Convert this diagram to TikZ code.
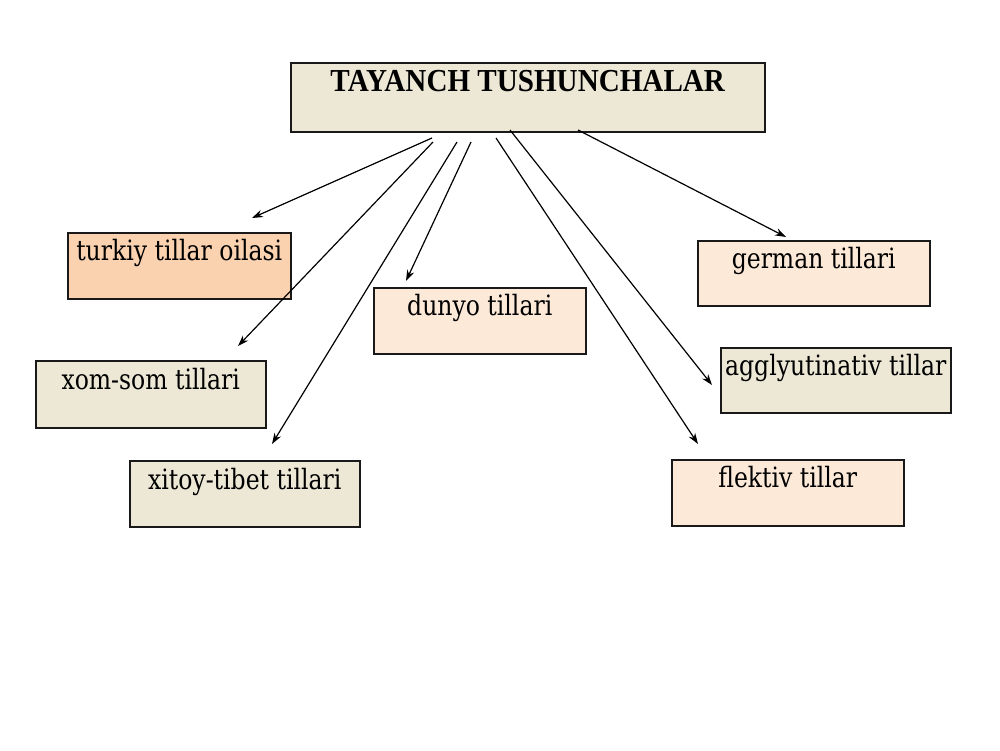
\documentclass[tikz,border=0pt]{standalone}
\usepackage{fontspec}
\setmainfont{DejaVu Serif}[FakeStretch=0.84]
\newfontfamily\titlefont{Liberation Serif}[FakeStretch=0.91]
\usetikzlibrary{arrows.meta}
\definecolor{beige}{RGB}{236,232,213}
\definecolor{peach}{RGB}{250,210,176}
\definecolor{lightpeach}{RGB}{253,233,216}
\begin{document}
\begin{tikzpicture}[x=1pt,y=-1pt,
  box/.style={draw=black!90, line width=1.5pt, inner sep=0pt, anchor=north west,
    minimum height=66pt, text height=28pt, text depth=38pt,
    font=\fontsize{28}{30}\selectfont},
  arr/.style={-{Stealth[length=11pt,width=7.5pt]}, line width=1.2pt}]
\useasboundingbox[fill=white] (0,0) rectangle (1000,750);
% title
\node[box, fill=beige, minimum width=474pt, minimum height=69pt,
  text height=29pt, text depth=40pt, font=\titlefont\bfseries\fontsize{32}{34}\selectfont]
  (title) at (290,62) {TAYANCH TUSHUNCHALAR};
% boxes
\node[box, fill=peach, minimum width=223pt] (turkiy) at (67,232) {turkiy tillar oilasi};
\node[box, fill=lightpeach, minimum width=212pt] (dunyo) at (373,287) {dunyo tillari};
\node[box, fill=lightpeach, minimum width=232pt, minimum height=65pt, text depth=37pt] (german) at (697,240) {german tillari};
\node[box, fill=beige, minimum width=230pt, minimum height=67pt, text height=29pt] (xom) at (35,360) {xom-som tillari};
\node[box, fill=beige, minimum width=230pt, minimum height=65pt, text depth=37pt] (agg) at (720,347) {agglyutinativ tillar};
\node[box, fill=beige, minimum width=230pt, text height=29pt, text depth=37pt] (xitoy) at (129,460) {xitoy-tibet tillari};
\node[box, fill=lightpeach, minimum width=232pt] (flektiv) at (671,459) {flektiv tillar};
% arrow end points
\coordinate (s1) at (432,138);
\coordinate (s2) at (433,142);
\coordinate (s3) at (457,142);
\coordinate (s4) at (471,142);
\coordinate (s5) at (496,138);
\coordinate (s6) at (510,130);
\coordinate (s7) at (578,130);
\coordinate (e1) at (252,218);
\coordinate (e2) at (238,346);
\coordinate (e3) at (272,444);
\coordinate (e4) at (406,281);
\coordinate (e5) at (698,444);
\coordinate (e6) at (712,385);
\coordinate (e7) at (786,237);
\draw[arr] (s1) -- (e1);
\draw[arr] (s2) -- (e2);
\draw[arr] (s3) -- (e3);
\draw[arr] (s4) -- (e4);
\draw[arr] (s5) -- (e5);
\draw[arr] (s6) -- (e6);
\draw[arr] (s7) -- (e7);
\end{tikzpicture}
\end{document}
